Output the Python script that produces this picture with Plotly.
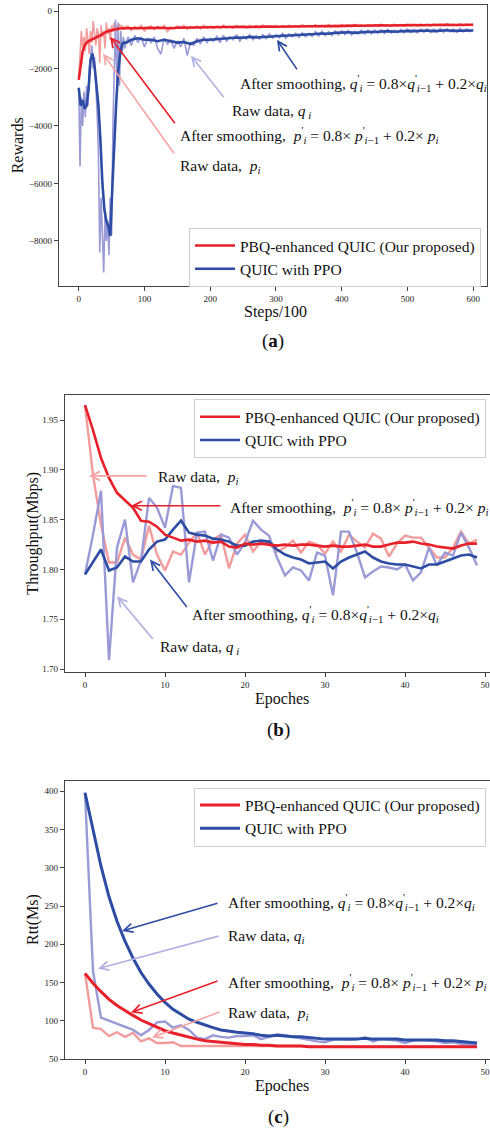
import plotly.graph_objects as go

# ---------------- data ----------------
# (a) rewards per 100 steps
steps_raw_a = list(range(0, 71, 2)) + list(range(75, 601, 5))
raw_p_a = [
    -2400, -1500, -700, -1300, -900, -1400, -600, -1000, -1500, -700, -1100, -350, -900, -1200,
    -600, -800, -1800, -500, -900, -700, -1300, -400, -800, -600, -1000, -500, -700, -400,
    -650, -500, -700, -450, -600, -500, -650, -550,
    -520, -680, -540, -620, -500, -700, -560, -520, -650, -540, -600, -500, -720, -560, -620,
    -520, -580, -500, -640, -540, -600, -520, -620, -500, -590, -530, -610, -520, -600, -490,
    -580, -540, -600, -500, -570, -520, -600, -500, -560, -510, -590, -490, -560, -520, -580,
    -500, -560, -500, -570, -490, -560, -510, -570, -480, -550, -500, -560, -480, -550, -500,
    -560, -470, -550, -490, -550, -470, -540, -490, -550, -460, -540, -480, -540, -470, -530,
    -480, -540, -460, -520, -480, -530, -460, -520, -470, -530, -460, -510, -470, -520, -450,
    -510, -460, -520, -450, -500, -460, -510, -440, -500, -460, -510, -440, -500, -450, -500,
    -460,
]
raw_q_a = [
    -2700, -5400, -3000, -4000, -2800, -3700, -2600, -3300, -2000, -1500, -1200, -2000, -1600,
    -2600, -3500, -5000, -8400, -6500, -7600, -9100, -7000, -8000, -7300, -8500, -6500, -7800,
    -4000, -2000, -300, -2500, -400, -2600, -700, -1500, -900, -1300,
    -900, -1200, -850, -1100, -900, -1250, -950, -1100, -900, -1300, -1500, -950, -1150, -1000,
    -1300, -1050, -1250, -950, -1550, -1100, -1200, -950, -1150, -900, -1100, -950, -1050, -880,
    -1100, -850, -1050, -900, -1000, -820, -1050, -880, -980, -820, -1000, -850, -980, -820,
    -960, -800, -950, -820, -930, -780, -950, -800, -900, -770, -920, -760, -900, -780, -880,
    -720, -870, -700, -860, -720, -850, -700, -830, -690, -820, -680, -830, -700, -800, -660,
    -800, -670, -790, -660, -780, -650, -780, -640, -770, -660, -760, -640, -760, -630, -750,
    -640, -760, -630, -740, -620, -750, -630, -740, -610, -740, -620, -730, -620, -740, -610,
    -730, -620, -720, -640,
]
steps_smooth_a = list(range(0, 73, 3)) + list(range(80, 601, 10))
smooth_p_a = [
    -2390, -1800, -1400, -1200, -1100, -1050, -1000, -980, -950, -900, -880, -850, -800, -760,
    -720, -700, -680, -660, -640, -630, -620, -610, -600, -600, -600,
    -600, -590, -600, -590, -585, -590, -600, -580, -575, -570, -575, -565, -560, -570, -560,
    -555, -560, -550, -555, -545, -550, -540, -545, -540, -535, -540, -530, -535, -525, -530,
    -520, -525, -515, -520, -510, -515, -505, -510, -500, -505, -495, -500, -495, -490, -495,
    -485, -490, -485, -480, -485, -475, -480, -478,
]
smooth_q_a = [
    -2670, -3300, -3100, -3400, -3300, -2700, -1700, -1480, -1900, -2600, -3300, -4500, -6000,
    -6900, -7300, -7500, -7830, -6200, -4500, -3200, -2100, -1500, -1150, -1100, -1100,
    -1000, -950, -1000, -1000, -1050, -1000, -1050, -1100, -1080, -1150, -1050, -1000, -1000,
    -980, -950, -950, -920, -930, -900, -920, -900, -880, -880, -860, -850, -840, -820, -830,
    -800, -780, -790, -760, -750, -740, -760, -730, -720, -730, -710, -700, -720, -700, -690,
    -700, -690, -680, -700, -680, -670, -690, -680, -670, -680,
]

# (b) throughput per epoch
epochs = list(range(50))
raw_p_b = [
    1.965, 1.895, 1.845, 1.807, 1.807, 1.832, 1.815, 1.810, 1.844, 1.815, 1.799, 1.818, 1.815,
    1.827, 1.837, 1.815, 1.830, 1.835, 1.801, 1.826, 1.835, 1.818, 1.828, 1.826, 1.818, 1.822,
    1.829, 1.817, 1.828, 1.825, 1.816, 1.828, 1.818, 1.835, 1.828, 1.822, 1.836, 1.831, 1.813,
    1.826, 1.834, 1.832, 1.832, 1.822, 1.812, 1.812, 1.822, 1.838, 1.826, 1.830,
]
smooth_p_b = [
    1.965, 1.940, 1.912, 1.892, 1.877, 1.870, 1.862, 1.849, 1.848, 1.843, 1.835, 1.832, 1.829,
    1.830, 1.828, 1.829, 1.827, 1.828, 1.823, 1.822, 1.826, 1.825, 1.826, 1.825, 1.824, 1.825,
    1.824, 1.825, 1.825, 1.824, 1.823, 1.824, 1.823, 1.823, 1.824, 1.825, 1.823, 1.823, 1.825,
    1.827, 1.827, 1.828, 1.826, 1.825, 1.823, 1.822, 1.821, 1.824, 1.826, 1.826,
]
raw_q_b = [
    1.795, 1.835, 1.879, 1.709, 1.822, 1.850, 1.787, 1.809, 1.872, 1.862, 1.842, 1.884, 1.882,
    1.787, 1.837, 1.838, 1.809, 1.835, 1.832, 1.815, 1.827, 1.849, 1.840, 1.834, 1.812, 1.794,
    1.802, 1.799, 1.789, 1.817, 1.814, 1.774, 1.838, 1.838, 1.817, 1.792, 1.798, 1.803, 1.802,
    1.800, 1.805, 1.789, 1.797, 1.822, 1.804, 1.817, 1.814, 1.837, 1.822, 1.804,
]
smooth_q_b = [
    1.795, 1.808, 1.820, 1.799, 1.802, 1.813, 1.808, 1.808, 1.820, 1.828, 1.830, 1.840, 1.849,
    1.837, 1.835, 1.834, 1.831, 1.830, 1.828, 1.824, 1.824, 1.828, 1.829, 1.828, 1.820, 1.815,
    1.812, 1.810, 1.806, 1.807, 1.808, 1.801, 1.808, 1.812, 1.815, 1.818, 1.812, 1.808, 1.806,
    1.805, 1.805, 1.803, 1.801, 1.805, 1.805, 1.808, 1.811, 1.814, 1.815, 1.812,
]

# (c) round-trip time per epoch
raw_p_c = [
    162, 91, 89, 80, 85, 79, 84, 73, 77, 71, 71, 72, 67, 67, 67, 67, 67, 67, 67, 67, 67, 67, 67,
    67, 67, 67, 67, 67, 66, 66, 66, 66, 66, 66, 66, 66, 66, 66, 66, 66, 66, 66, 66, 66, 66, 66,
    66, 66, 66, 66,
]
smooth_p_c = [
    162, 149, 138, 128, 120, 113, 107, 101, 96, 91, 87, 84, 81, 78, 76, 74, 73, 72, 71, 70, 69,
    69, 68, 68, 67, 67, 67, 67, 66, 66, 66, 66, 66, 66, 66, 66, 66, 66, 66, 66, 66, 66, 66, 66,
    66, 66, 66, 66, 66, 66,
]
raw_q_c = [
    398, 165, 104, 100, 97, 93, 88, 81, 88, 98, 99, 91, 94, 88, 78, 76, 81, 79, 78, 80, 80, 81,
    76, 79, 82, 81, 79, 76, 75, 73, 72, 75, 76, 75, 76, 78, 73, 76, 75, 74, 71, 74, 75, 74, 73,
    71, 72, 70, 69, 68,
]
smooth_q_c = [
    398, 352, 302, 262, 230, 204, 182, 163, 148, 135, 124, 115, 108, 102, 98, 94, 91, 88, 86,
    85, 84, 83, 81, 80, 81, 80, 79, 79, 78, 77, 76, 76, 76, 76, 76, 77, 76, 76, 76, 76, 75, 75,
    75, 75, 75, 74, 74, 73, 72, 71,
]

NAME_P = "PBQ-enhanced QUIC (Our proposed)"
NAME_Q = "QUIC with PPO"

# ---------------- style ----------------
W, H = 490, 1137
RED = "#e8202a"
PINK = "#f39c9c"
BLUE = "#2d4ca3"
LAV = "#9a9ad6"
LAV_ARROW = "#b3b1e2"
PINK_ARROW = "#f5a3a3"
SERIF = "Liberation Serif, Times New Roman, serif"
AXC = "#444444"
FS = 15.5


def px(x):
    return x / W


def py(y):
    return 1 - y / H


fig = go.Figure()


def add_panel(n, xs_raw, rp, rq, xs_s, sp, sq, wr, ws):
    xa, ya = ("x", "y") if n == 1 else (f"x{n}", f"y{n}")
    leg = "legend" if n == 1 else f"legend{n}"
    fig.add_trace(go.Scatter(x=xs_raw, y=rp, mode="lines", line=dict(color=PINK, width=wr),
                             xaxis=xa, yaxis=ya, showlegend=False, hoverinfo="skip"))
    fig.add_trace(go.Scatter(x=xs_raw, y=rq, mode="lines", line=dict(color=LAV, width=wr),
                             xaxis=xa, yaxis=ya, showlegend=False, hoverinfo="skip"))
    fig.add_trace(go.Scatter(x=xs_s, y=sq, mode="lines", line=dict(color=BLUE, width=ws),
                             xaxis=xa, yaxis=ya, name=NAME_Q, legend=leg, legendrank=2))
    fig.add_trace(go.Scatter(x=xs_s, y=sp, mode="lines", line=dict(color=RED, width=ws),
                             xaxis=xa, yaxis=ya, name=NAME_P, legend=leg, legendrank=1))


add_panel(1, steps_raw_a, raw_p_a, raw_q_a, steps_smooth_a, smooth_p_a, smooth_q_a, 1.6, 2.6)
add_panel(2, epochs, raw_p_b, raw_q_b, epochs, smooth_p_b, smooth_q_b, 2.4, 2.6)
add_panel(3, epochs, raw_p_c, raw_q_c, epochs, smooth_p_c, smooth_q_c, 2.4, 3.0)

tickfont = dict(family=SERIF, size=9, color="#222")


def xaxis(dom, rng, tv):
    return dict(domain=dom, range=rng, tickvals=tv, showline=True, linecolor=AXC, linewidth=1.3,
                mirror=True, ticks="outside", ticklen=4, tickcolor=AXC, tickfont=tickfont,
                showgrid=False, zeroline=False)


def yaxis(dom, rng, tv, mirror, fmt=None):
    d = dict(domain=dom, range=rng, tickvals=tv, showline=True, linecolor=AXC, linewidth=1.3,
             mirror=mirror, ticks="outside", ticklen=4, tickcolor=AXC, tickfont=tickfont,
             showgrid=False, zeroline=False)
    if fmt:
        d["tickformat"] = fmt
    return d


legend_base = dict(font=dict(family=SERIF, size=FS, color="#111"), bgcolor="white",
                   bordercolor="#cfcfcf", borderwidth=1, xanchor="left", yanchor="top",
                   tracegroupgap=0, itemwidth=40)

fig.update_layout(
    width=W, height=H, margin=dict(l=0, r=0, t=0, b=0),
    paper_bgcolor="white", plot_bgcolor="white",
    xaxis=xaxis([px(59), px(487)], [-30, 621], [0, 100, 200, 300, 400, 500, 600]),
    yaxis=yaxis([py(287), py(5)], [-9560, 210], [-8000, -6000, -4000, -2000, 0], True),
    xaxis2=dict(xaxis([px(65), 1.0], [-2.5, 50.625], [0, 10, 20, 30, 40, 50]), anchor="y2"),
    yaxis2=dict(yaxis([py(675), py(397)], [1.697, 1.975], [1.70, 1.75, 1.80, 1.85, 1.90, 1.95],
                      False, ".2f"), anchor="x2"),
    xaxis3=dict(xaxis([px(65), 1.0], [-2.5, 50.625], [0, 10, 20, 30, 40, 50]), anchor="y3"),
    yaxis3=dict(yaxis([py(1064), py(784)], [49.6, 414], [50, 100, 150, 200, 250, 300, 350, 400],
                      False), anchor="x3"),
    legend=dict(legend_base, x=px(189), y=py(229)),
    legend2=dict(legend_base, x=px(194), y=py(401)),
    legend3=dict(legend_base, x=px(194), y=py(791)),
)

ann = []


def text(x, y, s, size=FS, anchor="left", angle=0):
    ann.append(dict(x=px(x), y=py(y), xref="paper", yref="paper", text=s, showarrow=False,
                    xanchor=anchor, yanchor="middle", textangle=angle,
                    font=dict(family=SERIF, size=size, color="#111")))


def arrow(x0, y0, x1, y1, color):
    # tail (x0, y0) -> head (x1, y1), in page pixels
    ann.append(dict(x=px(x1), y=py(y1), xref="paper", yref="paper", text="", showarrow=True,
                    axref="pixel", ayref="pixel", ax=x0 - x1, ay=y0 - y1, arrowhead=5,
                    arrowsize=1.1, arrowwidth=1.6, arrowcolor=color, standoff=0))


SM_Q = ("After smoothing, <i>q</i><sup>'</sup><sub><i>i</i></sub> = 0.8×<i>q</i><sup>'</sup>"
        "<sub><i>i</i>−1</sub> + 0.2×<i>q</i><sub><i>i</i></sub>")
SM_P = ("After smoothing,  <i>p</i><sup>'</sup><sub><i>i</i></sub> = 0.8× <i>p</i><sup>'</sup>"
        "<sub><i>i</i>−1</sub> + 0.2× <i>p</i><sub><i>i</i></sub>")
RAW_Q = "Raw data, <i>q</i><sub> <i>i</i></sub>"
RAW_P = "Raw data,  <i>p</i><sub><i>i</i></sub>"

# panel (a)
arrow(298, 71, 277, 40, BLUE)
text(238, 83, SM_Q)
arrow(225, 99, 191, 56, LAV_ARROW)
text(230, 112, RAW_Q)
arrow(176, 125, 110, 37, RED)
text(178, 136, SM_P)
arrow(175, 155, 103, 54, PINK_ARROW)
text(178, 167, RAW_P)

# panel (b)
arrow(148, 478, 89, 478, PINK_ARROW)
text(156, 480, RAW_P)
arrow(222, 508, 131, 508, RED)
text(228, 509, SM_P)
arrow(188, 611, 150, 562, BLUE)
text(190, 617, SM_Q)
arrow(154, 643, 117, 599, LAV_ARROW)
text(158, 650, RAW_Q)

# panel (c)
arrow(219, 907, 122, 935, BLUE)
text(226, 906, SM_Q)
arrow(220, 940, 98, 973, LAV_ARROW)
text(226, 941, "Raw data, <i>q</i><sub><i>i</i></sub>")
arrow(219, 985, 131, 1017, RED)
text(226, 986, SM_P)
arrow(221, 1016, 152, 1042, PINK_ARROW)
text(226, 1018, RAW_P)

# axis titles and panel captions
text(17, 146, "Rewards", size=16, anchor="center", angle=-90)
text(275, 313, "Steps/100", size=16, anchor="center")
text(273, 343, "(<b>a</b>)", size=19, anchor="center")
text(33, 536, "Throughput(Mbps)", size=16, anchor="center", angle=-90)
text(282, 702, "Epoches", size=16, anchor="center")
text(278, 733, "(<b>b</b>)", size=19, anchor="center")
text(33, 924, "Rtt(Ms)", size=16, anchor="center", angle=-90)
text(282, 1091, "Epoches", size=16, anchor="center")
text(278, 1122, "(<b>c</b>)", size=19, anchor="center")

fig.update_layout(annotations=ann)
fig.write_html("out.html")
